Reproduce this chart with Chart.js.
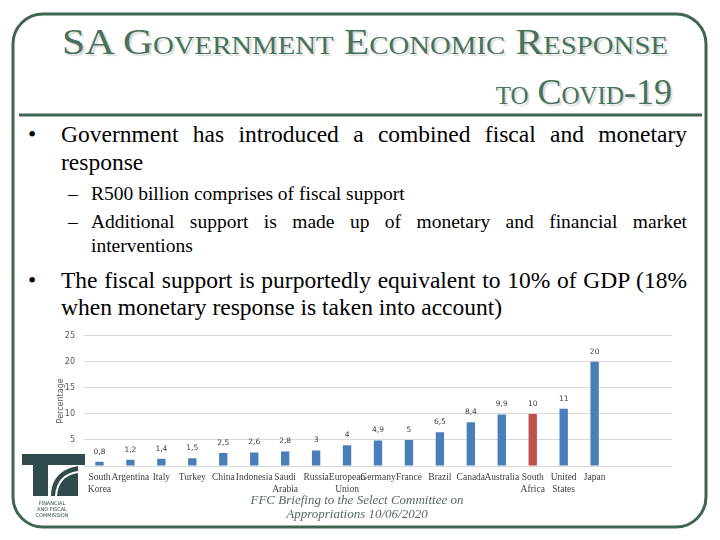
<!DOCTYPE html>
<html>
<head>
<meta charset="utf-8">
<script src="https://cdn.jsdelivr.net/npm/chart.js@4"></script>
<style>
  body { margin: 0; background: #fff; }
  #slide { position: relative; width: 720px; height: 540px; overflow: hidden; background: #fff; }
  .abs { position: absolute; white-space: nowrap; font-family: "Liberation Serif", "Times New Roman", "DejaVu Serif", serif; }
  .title { color: #46735a; font-size: 36px; font-variant: small-caps; text-shadow: 2px 2px 1px rgba(0,0,0,0.15); transform-origin: left top; }
  .b1 { font-size: 23.5px; color: #000; }
  .b2 { font-size: 19.5px; color: #000; }
  .just { transform-origin: left top; }
  #chartBox { position: absolute; left: 50px; top: 322px; width: 640px; height: 190px; }
  .foot { color: #55695f; font-style: italic; font-size: 13px; text-align: center; width: 300px; left: 207px; }
</style>
</head>
<body>
<div id="slide">
  <svg class="abs" style="left:0;top:0" width="720" height="540">
    <rect x="13" y="14" width="693" height="513" rx="30" ry="30" fill="none" stroke="#3f6650" stroke-width="3"/>
    <line x1="19" y1="115" x2="702" y2="115" stroke="#3f6650" stroke-width="3"/>
  </svg>

  <div id="t1" class="abs title" style="left:62px;top:21px">SA Government Economic Response</div>
  <div id="t2" class="abs title" style="left:472px;top:71px">to Covid-19</div>

  <div class="abs b1" style="left:28px;top:121px">•</div>
  <div class="abs b1 just" data-w="626" style="left:61px;top:121px">Government has introduced a combined fiscal and monetary</div>
  <div class="abs b1" style="left:61px;top:149px">response</div>

  <div class="abs b2" style="left:68px;top:183px">–</div>
  <div class="abs b2" style="left:91px;top:183px">R500 billion comprises of fiscal support</div>
  <div class="abs b2" style="left:68px;top:211px">–</div>
  <div class="abs b2 just" data-w="596" style="left:91px;top:211px">Additional support is made up of monetary and financial market</div>
  <div class="abs b2" style="left:91px;top:235px">interventions</div>

  <div class="abs b1" style="left:28px;top:267px">•</div>
  <div class="abs b1 just" data-w="626" style="left:61px;top:267px">The fiscal support is purportedly equivalent to 10% of GDP (18%</div>
  <div class="abs b1" style="left:61px;top:294px">when monetary response is taken into account)</div>

  <div id="chartBox"><canvas id="graficoCanvas"></canvas></div>

  <svg class="abs" style="left:0;top:0" width="720" height="540">
    <g fill="#2f4b4b">
      <rect x="22" y="454" width="63" height="11"/>
      <rect x="33" y="465" width="15" height="31"/>
      <path d="M51 496 C 51 480, 60 469, 78 466 L 78 496 Z"/>
    </g>
    <path d="M56 496 C 57 482, 64 474, 78 472" fill="none" stroke="#fff" stroke-width="2"/>
    <g fill="#2f4b4b" font-family="DejaVu Sans" font-size="5" text-anchor="middle">
      <text x="52" y="505">FINANCIAL</text>
      <text x="52" y="511">AND FISCAL</text>
      <text x="52" y="517">COMMISSION</text>
    </g>
  </svg>

  <div class="abs foot" style="top:492px">FFC Briefing to the Select Committee on</div>
  <div class="abs foot" style="top:506px">Appropriations 10/06/2020</div>
</div>

<script>
// ---------- Dados ----------
const paises = [
  ["South", "Korea"], "Argentina", "Italy", "Turkey", "China", "Indonesia",
  ["Saudi", "Arabia"], "Russia", ["European", "Union"], "Germany", "France",
  "Brazil", "Canada", "Australia", ["South", "Africa"], ["United", "States"], "Japan",
  "", ""
];
const percentagem = [0.8, 1.2, 1.4, 1.5, 2.5, 2.6, 2.8, 3, 4, 4.9, 5, 6.5, 8.4, 9.9, 10, 11, 20, null, null];
const yTicks = [0, 5, 10, 15, 20, 25];
const destaque = "South Africa";

const AZUL = "#4a7ebb";
const VERMELHO = "#c0504d";
const SERIF = "'Liberation Serif', 'Times New Roman', 'DejaVu Serif', serif";

// ---------- Ajuste do texto ----------
function fitWidth(id, targetRight) {
  const el = document.getElementById(id);
  const w = el.getBoundingClientRect().width;
  const left = parseFloat(el.style.left);
  el.style.transform = "scaleX(" + ((targetRight - left) / w) + ")";
}
fitWidth("t1", 668);
(function () {
  const el = document.getElementById("t2");
  const w = el.getBoundingClientRect().width;
  el.style.left = (672 - w) + "px";
})();

// justifica uma linha: espaça as palavras ou comprime se passar da largura
document.querySelectorAll(".just").forEach(el => {
  const alvo = parseFloat(el.dataset.w);
  const natural = el.getBoundingClientRect().width;
  const espacos = (el.textContent.match(/ /g) || []).length;
  if (natural > alvo) el.style.transform = "scaleX(" + (alvo / natural) + ")";
  else if (espacos) el.style.wordSpacing = ((alvo - natural) / espacos) + "px";
});

// ---------- Rotulos ----------
const rotulosPlugin = {
  id: "rotulos",
  afterDatasetsDraw(chart) {
    const ctx = chart.ctx;
    const meta = chart.getDatasetMeta(0);
    ctx.save();
    ctx.font = "7.5px 'DejaVu Sans'";
    ctx.fillStyle = "#404040";
    ctx.textAlign = "center";
    ctx.textBaseline = "middle";
    meta.data.forEach((bar, i) => {
      const v = percentagem[i];
      if (v === null) return;
      ctx.fillText(String(v).replace(".", ","), bar.x, bar.y - 10);
    });
    ctx.restore();
  }
};

const cores = paises.map(p => (Array.isArray(p) ? p.join(" ") : p) === destaque ? VERMELHO : AZUL);

new Chart(document.getElementById("graficoCanvas").getContext("2d"), {
  type: "bar",
  data: {
    labels: paises,
    datasets: [{
      data: percentagem,
      backgroundColor: cores,
      categoryPercentage: 1,
      barPercentage: 0.27
    }]
  },
  options: {
    responsive: true,
    maintainAspectRatio: false,
    animation: false,
    layout: { padding: { top: 9, right: 18, left: 0, bottom: 0 } },
    plugins: { legend: { display: false }, tooltip: { enabled: false } },
    scales: {
      x: {
        grid: { display: false, drawTicks: false },
        border: { display: false },
        ticks: {
          autoSkip: false, maxRotation: 0, padding: 6,
          color: "#404040",
          font: { family: SERIF, size: 9.5, lineHeight: 1.25 }
        },
        afterFit: s => { s.height = 46; }
      },
      y: {
        min: 0, max: 25,
        afterBuildTicks: s => { s.ticks = yTicks.map(v => ({ value: v })); },
        grid: { color: "#d9d9d9", drawTicks: false },
        border: { display: false },
        ticks: {
          padding: 9, color: "#595959",
          font: { family: "DejaVu Sans", size: 8 },
          callback: v => (v === 0 ? "" : v)
        },
        title: {
          display: true, text: "Percentage", color: "#595959",
          font: { family: "DejaVu Sans", size: 8 },
          padding: { top: 6, bottom: 0 }
        },
        afterFit: s => { s.width = 34; }
      }
    }
  },
  plugins: [rotulosPlugin]
});
</script>
</body>
</html>
